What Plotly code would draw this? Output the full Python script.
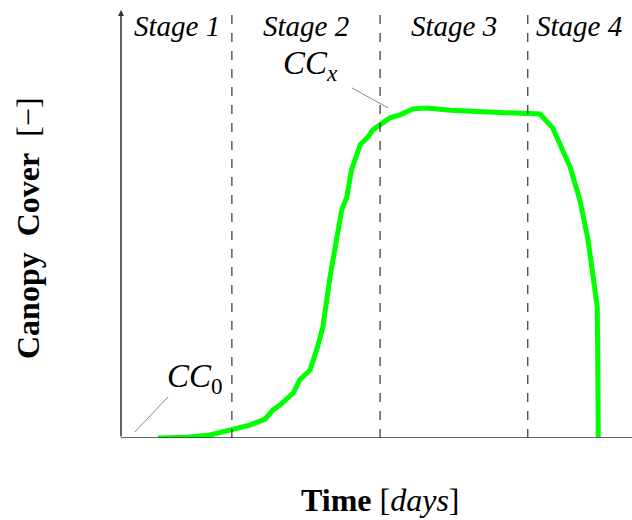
import plotly.graph_objects as go

# --- data ---
days = [7.2, 12.9, 17.4, 21.3, 25.2, 28.2, 29.7, 31.1, 33.7, 35.0, 37.0, 38.4, 39.5, 40.9,
        41.5, 43.2, 44.2, 45.1, 46.8, 48.3, 49.3, 50.7, 52.6, 54.6, 57.1, 59.9, 64.4, 70.8,
        80.0, 82.0, 84.5, 87.9, 89.8, 91.4, 92.4, 93.2, 93.3, 93.4]
canopy = [0.0, 0.002, 0.007, 0.019, 0.030, 0.044, 0.065, 0.077, 0.105, 0.136, 0.159, 0.210,
          0.259, 0.376, 0.416, 0.533, 0.563, 0.626, 0.685, 0.703, 0.720, 0.731, 0.748, 0.755,
          0.769, 0.771, 0.766, 0.762, 0.759, 0.757, 0.724, 0.633, 0.556, 0.463, 0.376, 0.306,
          0.189, 0.002]
stage_bounds = [21.7, 50.7, 79.6]
stage_labels = ["Stage 1", "Stage 2", "Stage 3", "Stage 4"]
stage_label_x = [10.9, 36.2, 65.2, 89.6]

SERIF = "Liberation Serif"

fig = go.Figure()
fig.add_trace(go.Scatter(x=days, y=canopy, mode="lines",
                         line=dict(color="#00ff00", width=5), hoverinfo="skip"))

shapes = []
for b in stage_bounds:
    shapes.append(dict(type="line", xref="x", yref="y", x0=b, x1=b, y0=0, y1=1,
                       line=dict(color="#333333", width=1.2, dash="dash")))
# x axis line
shapes.append(dict(type="line", xref="x", yref="y", x0=0, x1=100, y0=0, y1=0,
                   line=dict(color="#333333", width=1.5)))
# annotation pointer lines
shapes.append(dict(type="line", xref="x", yref="y", x0=2.7, x1=9.2, y0=0.014, y1=0.096,
                   line=dict(color="#888888", width=1)))
shapes.append(dict(type="line", xref="x", yref="y", x0=45.2, x1=52.3, y0=0.818, y1=0.771,
                   line=dict(color="#888888", width=1)))

annotations = []
# y axis arrow
annotations.append(dict(x=0, y=1.0, ax=0, ay=0, xref="x", yref="y", axref="x", ayref="y",
                        showarrow=True, arrowhead=2, arrowsize=0.8, arrowwidth=1.5,
                        arrowcolor="#333333", text=""))
for lab, xc in zip(stage_labels, stage_label_x):
    annotations.append(dict(x=xc, y=0.962, xref="x", yref="y", text="<i>" + lab + "</i>",
                            showarrow=False, font=dict(family=SERIF, size=29, color="black")))
annotations.append(dict(x=14.5, y=0.14, xref="x", yref="y", text="<i>CC</i><sub>0</sub>",
                        showarrow=False, font=dict(family=SERIF, size=33, color="black")))
annotations.append(dict(x=37.0, y=0.871, xref="x", yref="y", text="<i>CC<sub>x</sub></i>",
                        showarrow=False, font=dict(family=SERIF, size=33, color="black")))
# x axis title
annotations.append(dict(x=(380 - 121) / 511, y=(438 - 500) / 428, xref="paper", yref="paper",
                        xanchor="center", yanchor="middle",
                        text="<b>Time</b> [<i>days</i>]", showarrow=False,
                        font=dict(family=SERIF, size=32, color="black")))
# y axis title
annotations.append(dict(x=(28 - 121) / 511, y=(438 - 228) / 428, xref="paper", yref="paper",
                        xanchor="center", yanchor="middle", textangle=-90,
                        text="<b>Canopy  Cover</b>  [−]", showarrow=False,
                        font=dict(family=SERIF, size=32, color="black")))

fig.update_layout(
    width=632, height=520,
    margin=dict(l=121, r=0, t=10, b=82, pad=0),
    plot_bgcolor="white", paper_bgcolor="white",
    showlegend=False,
    shapes=shapes, annotations=annotations,
    xaxis=dict(range=[0, 100], showgrid=False, zeroline=False, showticklabels=False,
               ticks="", showline=False),
    yaxis=dict(range=[0, 1], showgrid=False, zeroline=False, showticklabels=False,
               ticks="", showline=False),
)

fig.write_html("out.html")
